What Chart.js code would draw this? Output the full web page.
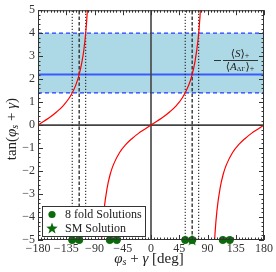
<!DOCTYPE html>
<html>
<head>
<meta charset="utf-8">
<script src="https://cdn.jsdelivr.net/npm/chart.js@4.4.1/dist/chart.umd.min.js"></script>
<style>
  html, body { margin: 0; padding: 0; background: #fff; }
  #wrap { width: 276px; height: 272px; }
</style>
</head>
<body>
<div id="wrap"><canvas id="myChart"></canvas></div>
<script>
// tick labels
var xTicks = [-180, -135, -90, -45, 0, 45, 90, 135, 180];
var yTicks = [-5, -4, -3, -2, -1, 0, 1, 2, 3, 4, 5];

// measured band: -<S>+/<A>+ central value and limits
var bandLow = 1.4;
var bandMid = 2.2;
var bandHigh = 4.0;

// vertical markers (deg)
var dottedX = [-125.5, -104, 54.5, 76];
var dashedX = [-114.4, 65.6];

// solutions shown along the bottom
var foldX = [-125.5, -114.4, -65.6, -54.5, 54.5, 65.6, 114.4, 125.5];
var smX = [65.6];

// red curve, three branches
var curveAx = [-180, -170, -160, -150, -140, -130, -125, -120, -115, -110, -107, -104, -101.5, -100];
var curveAy = [0, 0.18, 0.36, 0.58, 0.84, 1.19, 1.43, 1.73, 2.14, 2.75, 3.27, 4.01, 4.92, 5.67];
var curveBx = [-80, -78, -75, -70, -65, -60, -50, -40, -30, -20, -10, 0, 10, 20, 30, 40, 50, 60, 65, 70, 75, 78, 80];
var curveBy = [-5.67, -4.70, -3.73, -2.75, -2.14, -1.73, -1.19, -0.84, -0.58, -0.36, -0.18, 0, 0.18, 0.36, 0.58, 0.84, 1.19, 1.73, 2.14, 2.75, 3.73, 4.70, 5.67];
var curveCx = [100, 102, 105, 110, 115, 120, 130, 140, 150, 160, 170, 180];
var curveCy = [-5.67, -4.70, -3.73, -2.75, -2.14, -1.73, -1.19, -0.84, -0.58, -0.36, -0.18, 0];

var green = "#0b6b0b";
var serif = "'Liberation Serif', 'DejaVu Serif', serif";

function pts(xs, ys) {
  return xs.map(function (x, i) { return { x: x, y: ys[i] }; });
}
function hline(y) {
  return [{ x: -180, y: y }, { x: 180, y: y }];
}
function vline(x) {
  return [{ x: x, y: -5 }, { x: x, y: 5 }];
}

// filled five point star for the SM solution
function makeStar(size) {
  var c = document.createElement("canvas");
  c.width = size; c.height = size;
  var g = c.getContext("2d");
  var r = size / 2, ri = r * 0.42;
  g.beginPath();
  for (var i = 0; i < 10; i++) {
    var rr = i % 2 === 0 ? r : ri;
    var a = -Math.PI / 2 + i * Math.PI / 5;
    g.lineTo(r + rr * Math.cos(a), r + 0.6 + rr * Math.sin(a));
  }
  g.closePath();
  g.fillStyle = green;
  g.fill();
  return c;
}
var starImg = makeStar(12);

var datasets = [];
// band
datasets.push({ data: hline(bandLow), borderColor: "#1f3cff", borderWidth: 1.3, borderDash: [4, 3], pointRadius: 0, order: 20 });
datasets.push({ data: hline(bandHigh), borderColor: "#1f3cff", borderWidth: 1.3, borderDash: [4, 3], pointRadius: 0,
  fill: "-1", backgroundColor: "#add8e6", order: 21 });
datasets.push({ data: hline(bandMid), borderColor: "#3a5cff", borderWidth: 2, pointRadius: 0, order: 15 });
// zero axes
datasets.push({ data: hline(0), borderColor: "#444", borderWidth: 1.6, pointRadius: 0, order: 14 });
datasets.push({ data: vline(0), borderColor: "#444", borderWidth: 1.6, pointRadius: 0, order: 14 });
// vertical lines
dottedX.forEach(function (x) {
  datasets.push({ data: vline(x), borderColor: "#111", borderWidth: 1, borderDash: [1.2, 1.8], pointRadius: 0, order: 12 });
});
dashedX.forEach(function (x) {
  datasets.push({ data: vline(x), borderColor: "#333", borderWidth: 1.4, borderDash: [3.5, 2], pointRadius: 0, order: 12 });
});
// red curve
[[curveAx, curveAy], [curveBx, curveBy], [curveCx, curveCy]].forEach(function (c) {
  datasets.push({ data: pts(c[0], c[1]), borderColor: "#ff0000", borderWidth: 1.2, pointRadius: 0,
    cubicInterpolationMode: "monotone", order: 10 });
});
// solutions
datasets.push({ data: foldX.map(function (x) { return { x: x, y: -5 }; }), showLine: false,
  pointRadius: 3.6, pointBackgroundColor: green, pointBorderColor: green, clip: false, order: 2 });
datasets.push({ data: smX.map(function (x) { return { x: x, y: -5 }; }), showLine: false,
  pointStyle: starImg, clip: false, order: 1 });

function richText(ctx, parts, cx, cy) {
  var w = 0;
  parts.forEach(function (p) { ctx.font = p.f; w += ctx.measureText(p.t).width; });
  var x = cx - w / 2;
  parts.forEach(function (p) {
    ctx.font = p.f;
    ctx.fillText(p.t, x, cy + (p.dy || 0));
    x += ctx.measureText(p.t).width;
  });
}

var decor = {
  id: "decor",
  afterDraw: function (chart) {
    var ctx = chart.ctx, a = chart.chartArea;
    var xs = chart.scales.x, ys = chart.scales.y;
    ctx.save();
    ctx.strokeStyle = "#333";
    ctx.lineWidth = 1;
    // inward ticks on all sides
    ctx.beginPath();
    for (var v = -180; v <= 180; v += 5) {
      var px = Math.round(xs.getPixelForValue(v)) + 0.5;
      var len = v % 45 === 0 ? 5 : 2.5;
      ctx.moveTo(px, a.bottom); ctx.lineTo(px, a.bottom - len);
      ctx.moveTo(px, a.top); ctx.lineTo(px, a.top + len);
    }
    for (var k = -25; k <= 25; k++) {
      var py = Math.round(ys.getPixelForValue(k / 5)) + 0.5;
      var l2 = k % 5 === 0 ? 5 : 2.5;
      ctx.moveTo(a.left, py); ctx.lineTo(a.left + l2, py);
      ctx.moveTo(a.right, py); ctx.lineTo(a.right - l2, py);
    }
    ctx.stroke();
    ctx.strokeRect(a.left + 0.5, a.top + 0.5, a.right - a.left - 1, a.bottom - a.top - 1);

    // legend
    var lx = a.left + 4, ly = a.bottom - 34;
    ctx.fillStyle = "#fff";
    ctx.fillRect(lx, ly, 103, 30);
    ctx.strokeStyle = "#333";
    ctx.strokeRect(lx + 0.5, ly + 0.5, 103, 30);
    ctx.fillStyle = green;
    ctx.beginPath();
    ctx.arc(lx + 10, ly + 8.5, 3.6, 0, Math.PI * 2);
    ctx.fill();
    ctx.drawImage(starImg, lx + 4, ly + 16);
    ctx.fillStyle = "#222";
    ctx.textBaseline = "middle";
    ctx.textAlign = "left";
    ctx.font = "12px " + serif;
    ctx.fillText("8 fold Solutions", lx + 23, ly + 8.5);
    ctx.fillText("SM Solution", lx + 23, ly + 22.5);

    // fraction label
    var fx = 240, fy = Math.round(ys.getPixelForValue(2.85));
    ctx.fillRect(214, fy, 7, 0.9);
    ctx.fillRect(223, fy, 35, 0.9);
    richText(ctx, [{ t: "\u27e8", f: "11px " + serif }, { t: "S", f: "italic 11px " + serif },
      { t: "\u27e9", f: "11px " + serif }, { t: "+", f: "8px " + serif, dy: 2 }], fx, fy - 6);
    richText(ctx, [{ t: "\u27e8", f: "11px " + serif }, { t: "A", f: "italic 11px " + serif },
      { t: "\u0394\u0393", f: "7px " + serif, dy: 2 }, { t: "\u27e9", f: "11px " + serif },
      { t: "+", f: "8px " + serif, dy: 2 }], fx, fy + 7);

    // axis titles
    ctx.fillStyle = "#222";
    richText(ctx, [{ t: "\u03c6", f: "italic 15px " + serif }, { t: "s", f: "italic 10px " + serif, dy: 3 },
      { t: " + ", f: "15px " + serif }, { t: "\u03b3", f: "italic 15px " + serif },
      { t: " [deg]", f: "15px " + serif }], (a.left + a.right) / 2 - 2, 259);
    ctx.translate(12, (a.top + a.bottom) / 2 + 4);
    ctx.rotate(-Math.PI / 2);
    richText(ctx, [{ t: "tan(", f: "15px " + serif }, { t: "\u03c6", f: "italic 15px " + serif },
      { t: "s", f: "italic 10px " + serif, dy: 3 }, { t: " + ", f: "15px " + serif },
      { t: "\u03b3", f: "italic 15px " + serif }, { t: ")", f: "15px " + serif }], 0, 0);
    ctx.restore();
  }
};

function minusLabel(v) {
  return String(v).replace("-", "\u2212");
}

var ctx = document.getElementById("myChart").getContext("2d");
var chart = new Chart(ctx, {
  type: "scatter",
  data: { datasets: datasets },
  options: {
    responsive: true,
    maintainAspectRatio: false,
    animation: false,
    showLine: true,
    layout: { padding: { top: 7, right: 12, left: 0, bottom: 0 } },
    plugins: { legend: { display: false }, tooltip: { enabled: false } },
    scales: {
      x: {
        type: "linear", min: -180, max: 180,
        grid: { display: false, drawTicks: false },
        border: { display: false },
        afterBuildTicks: function (s) { s.ticks = xTicks.map(function (v) { return { value: v }; }); },
        afterFit: function (s) { s.height = 32; },
        ticks: { padding: 2, maxRotation: 0, autoSkip: false, color: "#333",
          font: { family: serif, size: 12 }, callback: minusLabel }
      },
      y: {
        type: "linear", min: -5, max: 5,
        grid: { display: false, drawTicks: false },
        border: { display: false },
        afterBuildTicks: function (s) { s.ticks = yTicks.map(function (v) { return { value: v }; }); },
        afterFit: function (s) { s.width = 38; },
        ticks: { padding: 3, autoSkip: false, color: "#333",
          font: { family: serif, size: 12 }, callback: minusLabel }
      }
    }
  },
  plugins: [decor]
});
</script>
</body>
</html>
